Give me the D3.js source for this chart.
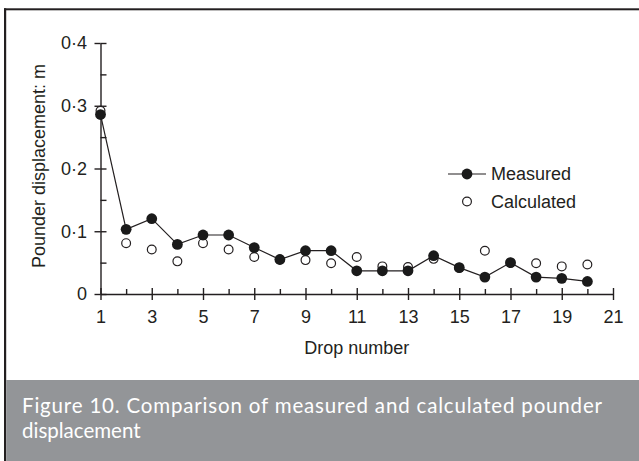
<!DOCTYPE html>
<html>
<head>
<meta charset="utf-8">
<script src="https://cdn.jsdelivr.net/npm/d3@7"></script>
<style>
  html, body { margin: 0; padding: 0; background: #fff; }
  svg { display: block; }
  .ax text { font-family: "Liberation Sans", Arial, sans-serif; font-size: 18px; fill: #231f20; }
  .ax path, .ax line { stroke: #231f20; stroke-width: 1.4; }
</style>
</head>
<body>
<svg id="chart" width="639" height="461"></svg>
<script>
// Drop numbers and pounder displacement (m)
const drops = [1, 2, 3, 4, 5, 6, 7, 8, 9, 10, 11, 12, 13, 14, 15, 16, 17, 18, 19, 20];
const measured = [0.286, 0.103, 0.120, 0.079, 0.094, 0.094, 0.074, 0.055, 0.069, 0.069,
                  0.037, 0.037, 0.037, 0.061, 0.042, 0.027, 0.050, 0.027, 0.025, 0.020];
const calculated = [0.292, 0.081, 0.071, 0.052, 0.081, 0.071, 0.059, 0.055, 0.054, 0.049,
                    0.059, 0.044, 0.043, 0.056, 0.042, 0.069, 0.050, 0.049, 0.044, 0.047];

const xMajor = [1, 3, 5, 7, 9, 11, 13, 15, 17, 19, 21];
const xMinor = [2, 4, 6, 8, 10, 12, 14, 16, 18, 20];
const yMajor = [0, 0.1, 0.2, 0.3, 0.4];
const yMinor = [0.05, 0.15, 0.25, 0.35];
const yLabels = ["0", "0·1", "0·2", "0·3", "0·4"];

const seriesNames = ["Measured", "Calculated"];
const xTitle = "Drop number";
const yTitle = "Pounder displacement: m";
const captionLines = ["Figure 10. Comparison of measured and calculated pounder", "displacement"];

const svg = d3.select("#chart");
const ink = "#231f20";

// frame: top and left rules
svg.append("rect").attr("x", 4).attr("y", 8.3).attr("width", 635).attr("height", 2).attr("fill", ink);
svg.append("rect").attr("x", 4).attr("y", 8.3).attr("width", 2.2).attr("height", 453).attr("fill", ink);

const x = d3.scaleLinear().domain([1, 21]).range([100.5, 613]);
const y = d3.scaleLinear().domain([0, 0.4]).range([294, 43]);

// x axis: labelled ticks below, crossing marks above, minor marks above
const gx = svg.append("g").attr("class", "ax").attr("transform", `translate(0,${y(0)})`);
gx.call(d3.axisBottom(x).tickValues(xMajor).tickFormat(d3.format("d"))
  .tickSizeInner(6).tickSizeOuter(0).tickPadding(10));
gx.selectAll(".tick text").attr("fill", ink);
svg.append("g").attr("class", "ax").attr("transform", `translate(0,${y(0)})`)
  .call(d3.axisBottom(x).tickValues(xMajor).tickSizeInner(-6).tickSizeOuter(0).tickFormat(""))
  .select(".domain").remove();
svg.append("g").attr("class", "ax").attr("transform", `translate(0,${y(0)})`)
  .call(d3.axisBottom(x).tickValues(xMinor).tickSizeInner(-5).tickSizeOuter(0).tickFormat(""))
  .select(".domain").remove();

// y axis
const gy = svg.append("g").attr("class", "ax").attr("transform", `translate(${x(1)},0)`);
gy.call(d3.axisLeft(y).tickValues(yMajor).tickFormat((d, i) => yLabels[i])
  .tickSizeInner(6).tickSizeOuter(0).tickPadding(7.5));
gy.selectAll(".tick text").attr("fill", ink);
svg.append("g").attr("class", "ax").attr("transform", `translate(${x(1)},0)`)
  .call(d3.axisLeft(y).tickValues(yMajor).tickSizeInner(-6).tickSizeOuter(0).tickFormat(""))
  .select(".domain").remove();
svg.append("g").attr("class", "ax").attr("transform", `translate(${x(1)},0)`)
  .call(d3.axisLeft(y).tickValues(yMinor).tickSizeInner(-6).tickSizeOuter(0).tickFormat(""))
  .select(".domain").remove();

// axis titles
svg.append("text")
  .attr("x", (x(1) + x(21)) / 2).attr("y", 354)
  .attr("text-anchor", "middle")
  .style("font-family", "'Liberation Sans', Arial, sans-serif").style("font-size", "18px")
  .attr("fill", ink).text(xTitle);
svg.append("text")
  .attr("transform", "translate(45,166) rotate(-90)")
  .attr("text-anchor", "middle")
  .style("font-family", "'Liberation Sans', Arial, sans-serif").style("font-size", "18px")
  .attr("fill", ink).text(yTitle);

// calculated: open circles
svg.append("g").selectAll("circle").data(drops).join("circle")
  .attr("cx", d => x(d)).attr("cy", (d, i) => y(calculated[i]))
  .attr("r", 4.4).attr("fill", "#fff").attr("stroke", ink).attr("stroke-width", 1.2);

// measured: line with filled markers
const line = d3.line().x(d => x(d)).y((d, i) => y(measured[i]));
svg.append("path").datum(drops).attr("d", line)
  .attr("fill", "none").attr("stroke", ink).attr("stroke-width", 1.2);
svg.append("g").selectAll("circle").data(drops).join("circle")
  .attr("cx", d => x(d)).attr("cy", (d, i) => y(measured[i]))
  .attr("r", 5.4).attr("fill", "#1a1a1a");

// legend
const lg = svg.append("g");
lg.append("line").attr("x1", 448).attr("x2", 486).attr("y1", 174).attr("y2", 174)
  .attr("stroke", ink).attr("stroke-width", 1.2);
lg.append("circle").attr("cx", 467).attr("cy", 174).attr("r", 5.4).attr("fill", "#1a1a1a");
lg.append("circle").attr("cx", 467).attr("cy", 201.5).attr("r", 4.4)
  .attr("fill", "#fff").attr("stroke", ink).attr("stroke-width", 1.2);
lg.selectAll("text").data(seriesNames).join("text")
  .attr("x", 491).attr("y", (d, i) => 180 + i * 27.5)
  .style("font-family", "'Liberation Sans', Arial, sans-serif").style("font-size", "18px")
  .attr("fill", ink).text(d => d);

// caption band
svg.append("rect").attr("x", 6.2).attr("y", 380).attr("width", 633).attr("height", 81).attr("fill", "#939598");
svg.append("g").selectAll("text").data(captionLines).join("text")
  .attr("x", 22).attr("y", (d, i) => 413 + i * 25)
  .attr("textLength", (d, i) => i === 0 ? 580 : null)
  .attr("lengthAdjust", "spacing")
  .style("font-family", "Lato, 'Open Sans', sans-serif").style("font-size", "20.5px")
  .attr("fill", "#fff").text(d => d);
</script>
</body>
</html>
